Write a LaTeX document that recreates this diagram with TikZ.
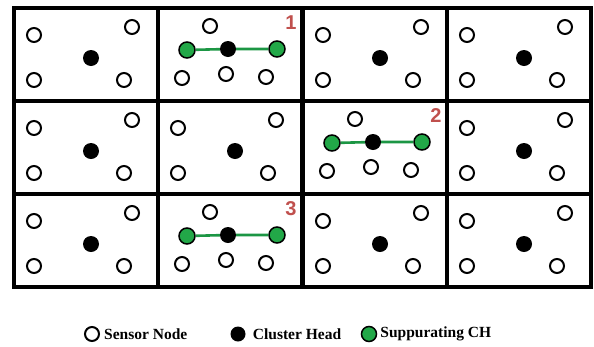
\documentclass[tikz,border=0pt]{standalone}
\usepackage{fontspec}
\setmainfont{Liberation Serif}
\newfontfamily\numfont{Liberation Sans}
\usetikzlibrary{calc, positioning}

\definecolor{chgreen}{RGB}{34,168,72}
\definecolor{linkgreen}{RGB}{28,150,68}
\definecolor{numred}{RGB}{192,80,77}

\begin{document}
\begin{tikzpicture}[x=1pt, y=-1pt]
	\tikzset{
		cell/.style = {draw, line width=3.4pt, minimum width=144pt, minimum height=93pt, anchor=north west, inner sep=0pt, outer sep=0pt},
		sensor/.style = {circle, draw, line width=2pt, fill=white, minimum size=14pt, inner sep=0pt},
		head/.style = {circle, fill=black, minimum size=16pt, inner sep=0pt},
		supp/.style = {circle, draw, line width=1.5pt, fill=chgreen, minimum size=16pt, inner sep=0pt},
		link/.style = {linkgreen, line width=2.6pt},
		num/.style = {font={\numfont\bfseries\fontsize{20}{20}\selectfont}, text=numred, inner sep=0pt},
		legend/.style = {font={\bfseries\fontsize{15.5}{16}\selectfont}, anchor=west, inner sep=0pt},
	}
	\useasboundingbox (0,0) rectangle (594,346);

	% grid of clusters
	\foreach \c/\x in {1/14, 2/158, 3/303, 4/447}
		\foreach \r/\y in {1/8, 2/101, 3/194}
			{
				\node[cell] (cell-\r-\c) at (\x,\y) {};
			}

	% plain clusters: one head, four sensors
	\foreach \r/\c in {1/1, 1/3, 1/4, 2/1, 2/2, 2/4, 3/1, 3/3, 3/4}
		{
			\node[head] (ch-\r-\c) at ($(cell-\r-\c.north west)+(77,50)$) {};
			\foreach \i/\dx/\dy in {1/20/27, 2/118/19, 3/20/72, 4/110/72}
				\node[sensor] (sn-\r-\c-\i) at ($(cell-\r-\c.north west)+(\dx,\dy)$) {};
		}

	% clusters with suppurating heads
	\foreach \r/\c/\n in {1/2/1, 2/3/2, 3/2/3}
		{
			\node[head] (ch-\r-\c) at ($(cell-\r-\c.north west)+(70,41)$) {};
			\node[supp] (sc-\r-\c-a) at ($(cell-\r-\c.north west)+(29,42)$) {};
			\node[supp] (sc-\r-\c-b) at ($(cell-\r-\c.north west)+(119,41)$) {};
			\draw[link] (sc-\r-\c-a) -- (ch-\r-\c) -- (sc-\r-\c-b);
			\foreach \i/\dx/\dy in {1/52/18, 2/24/70, 3/68/66, 4/108/69}
				\node[sensor] (sn-\r-\c-\i) at ($(cell-\r-\c.north west)+(\dx,\dy)$) {};
			\node[num] (num-\n) at ($(cell-\r-\c.north west)+(133,15)$) {\n};
		}

	% key
	\node[sensor] (key-sn) at (92,334) {};
	\node[legend, right=4pt of key-sn] (key-sn-text) {Sensor Node};
	\node[head, minimum size=15pt] (key-ch) at (238,334) {};
	\node[legend, right=7pt of key-ch] (key-ch-text) {Cluster Head};
	\node[supp, minimum size=15pt] (key-sc) at (369,334) {};
	\node[legend, right=3pt of key-sc] (key-sc-text) {Suppurating CH};

\end{tikzpicture}
\end{document}
